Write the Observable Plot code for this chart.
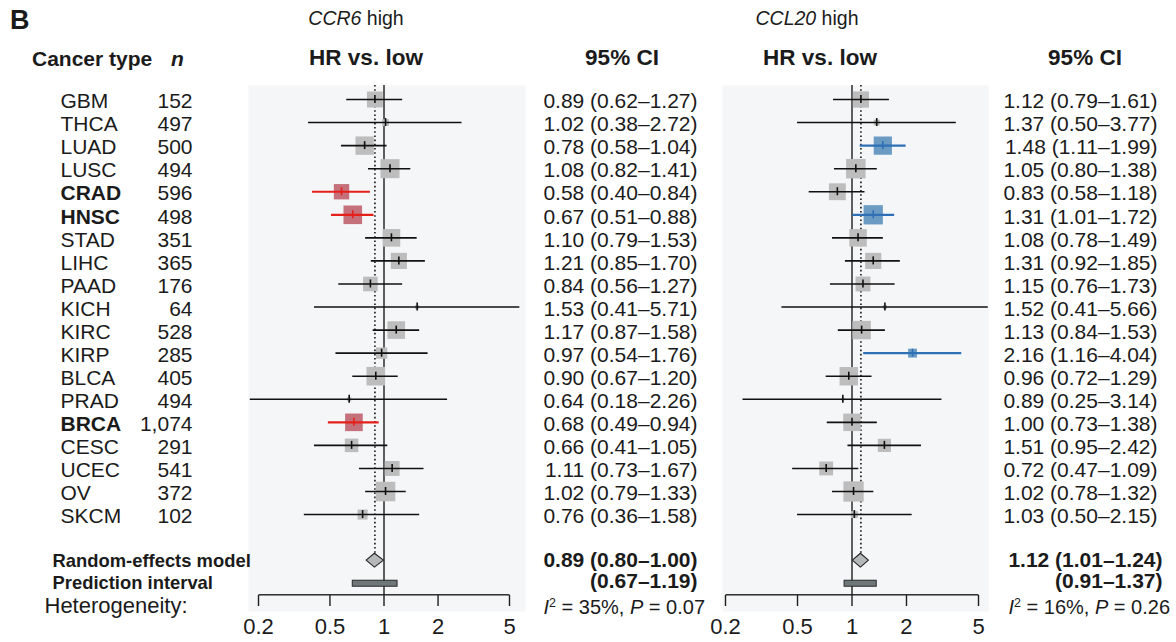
<!DOCTYPE html>
<html><head><meta charset="utf-8">
<script src="https://cdn.jsdelivr.net/npm/d3@7"></script>
<script src="https://cdn.jsdelivr.net/npm/@observablehq/plot@0.6"></script>
<style>
html,body{margin:0;padding:0;background:#fff}
#wrap{position:relative;width:1176px;height:642px;overflow:hidden;font-family:"Liberation Sans",Arial,Helvetica,sans-serif;color:#1b1b1b}
#wrap svg{position:absolute;left:0;top:0;background:transparent}
.lab{position:absolute;white-space:nowrap;line-height:1}
.c{transform:translate(-50%,-50%)}
.l{transform:translate(0,-50%)}
.r{transform:translate(-100%,-50%)}
sup{font-size:0.62em;vertical-align:0.55em;line-height:0}
</style></head>
<body><div id="wrap"></div>
<script>
// ---------- data ----------
const cancerTypes = ["GBM","THCA","LUAD","LUSC","CRAD","HNSC","STAD","LIHC","PAAD","KICH","KIRC","KIRP","BLCA","PRAD","BRCA","CESC","UCEC","OV","SKCM"];
const sampleSizes = [152,497,500,494,596,498,351,365,176,64,528,285,405,494,1074,291,541,372,102];

const ccr6HR     = [0.89,1.02,0.78,1.08,0.58,0.67,1.10,1.21,0.84,1.53,1.17,0.97,0.90,0.64,0.68,0.66,1.11,1.02,0.76];
const ccr6Lo     = [0.62,0.38,0.58,0.82,0.40,0.51,0.79,0.85,0.56,0.41,0.87,0.54,0.67,0.18,0.49,0.41,0.73,0.79,0.36];
const ccr6Hi     = [1.27,2.72,1.04,1.41,0.84,0.88,1.53,1.70,1.27,5.71,1.58,1.76,1.20,2.26,0.94,1.05,1.67,1.33,1.58];
const ccr6Weight = [5.8,1.1,7.7,8.3,5.4,7.9,7.1,6.0,4.9,0.4,7.1,2.9,7.9,0.4,7.1,4.2,5.1,8.7,2.3];
const ccr6Summary = [0.89,0.80,1.00];   // HR, lower, upper (random-effects)
const ccr6Pred    = [0.67,1.19];        // prediction interval
const ccr6Het     = ["35","0.07"];      // I^2 (%), P

const ccl20HR     = [1.12,1.37,1.48,1.05,0.83,1.31,1.08,1.31,1.15,1.52,1.13,2.16,0.96,0.89,1.00,1.51,0.72,1.02,1.03];
const ccl20Lo     = [0.79,0.50,1.11,0.80,0.58,1.01,0.78,0.92,0.76,0.41,0.84,1.16,0.72,0.25,0.73,0.95,0.47,0.78,0.50];
const ccl20Hi     = [1.61,3.77,1.99,1.38,1.18,1.72,1.49,1.85,1.73,5.66,1.53,4.04,1.29,3.14,1.38,2.42,1.09,1.32,2.15];
const ccl20Weight = [6.0,0.8,7.6,8.7,6.5,8.5,7.0,6.0,5.1,0.4,7.8,1.8,7.8,0.2,7.0,4.0,4.4,9.4,1.1];
const ccl20Summary = [1.12,1.01,1.24];
const ccl20Pred    = [0.91,1.37];
const ccl20Het     = ["16","0.26"];

const xTicks = [0.2,0.5,1,2,5];

// ---------- layout ----------
const W = 1176, H = 642, MT = 85, MB = 47;
const FONT = '"Liberation Sans", Arial, Helvetica, sans-serif';
const TXT = "#1b1b1b";
const wrap = document.getElementById("wrap");
const fmt = d3.format(".2f");
const fmtN = d3.format(",");
const boldTypes = new Set(cancerTypes.filter((t,i) => ccr6Hi[i] < 1));

function addLabel(html, x, y, cls, style) {
  const el = document.createElement("div");
  el.className = "lab " + cls;
  el.style.cssText = `left:${x}px;top:${y}px;${style || ""}`;
  el.innerHTML = html;
  wrap.appendChild(el);
}

function panel(cfg) {
  const {hr, lo, hi, weight, summary, pred, sigStroke, sigFill, left, right, bg, ciEnd, sumEnd, labels} = cfg;
  const rows = cancerTypes.map((t, i) => ({type: t, n: sampleSizes[i], row: i, hr: hr[i], lo: lo[i], hi: hi[i], w: weight[i], sig: hi[i] < 1 || lo[i] > 1}));
  const reRow = cancerTypes.length + 1, piRow = reRow + 1, hetRow = piRow + 1;
  const dh = 0.3;
  const diamond = [
    {y: reRow - dh, x1: summary[0], x2: summary[0]},
    {y: reRow, x1: summary[1], x2: summary[2]},
    {y: reRow + dh, x1: summary[0], x2: summary[0]}
  ];
  const ns = rows.filter(d => !d.sig), sg = rows.filter(d => d.sig);
  const marks = [
    Plot.frame({fill: "#f5f6f7", stroke: "none", insetLeft: -bg[0], insetRight: -bg[1], insetBottom: -16}),
    Plot.ruleX([1], {stroke: "#1e1e1e", strokeWidth: 1.4}),
    Plot.ruleX([summary[0]], {y1: () => 0, y2: () => reRow, insetTop: -14, insetBottom: 7, stroke: "#222", strokeWidth: 1.7, strokeDasharray: "1.6,2.6"}),
    Plot.dot(rows, {x: "hr", y: "row", r: "w", symbol: "square", fill: d => d.sig ? sigFill : "#bdbdbd", stroke: "none"}),
    Plot.ruleY(ns, {y: "row", x1: "lo", x2: "hi", stroke: "#111", strokeWidth: 1.6}),
    Plot.ruleY(sg, {y: "row", x1: "lo", x2: "hi", stroke: sigStroke, strokeWidth: 2.2}),
    Plot.ruleX(rows, {x: "hr", y1: "row", y2: "row", insetTop: -4, insetBottom: -4, stroke: d => d.sig ? sigStroke : "#111", strokeWidth: 1.6}),
    Plot.areaX(diamond, {y: "y", x1: "x1", x2: "x2", fill: "#b5b8b9", stroke: "#222", strokeWidth: 1.1}),
    Plot.rect([pred], {x1: d => d[0], x2: d => d[1], y1: () => piRow, y2: () => piRow, insetTop: -3, insetBottom: -3, fill: "#6f777a", stroke: "#2a2a2a", strokeWidth: 1}),
    // axis line along the frame bottom
    Plot.frame({fill: "#1e1e1e", stroke: "none", insetTop: (H - MB - MT) - 1.4}),
    Plot.axisX({ticks: xTicks, tickSize: 11, tickPadding: 12, tickFormat: d => String(d), fontSize: 22, stroke: "#1e1e1e", strokeWidth: 1.4, fill: TXT, label: null}),
    Plot.text(rows, {y: "row", text: d => `${fmt(d.hr)} (${fmt(d.lo)}–${fmt(d.hi)})`, frameAnchor: "right", dx: ciEnd - right, dy: 2, textAnchor: "end", fontSize: 21, fill: TXT}),
    Plot.text([summary], {y: () => reRow, text: d => `${fmt(d[0])} (${fmt(d[1])}–${fmt(d[2])})`, frameAnchor: "right", dx: sumEnd - right, dy: 0, textAnchor: "end", fontSize: 21, fontWeight: "bold", fill: TXT}),
    Plot.text([pred], {y: () => piRow, text: d => `(${fmt(d[0])}–${fmt(d[1])})`, frameAnchor: "right", dx: sumEnd - right, dy: -2, textAnchor: "end", fontSize: 21, fontWeight: "bold", fill: TXT})
  ];
  if (labels) {
    marks.push(
      Plot.text(rows.filter(d => !boldTypes.has(d.type)), {y: "row", text: "type", frameAnchor: "left", dx: 60 - left, dy: 2, textAnchor: "start", fontSize: 21, fill: TXT}),
      Plot.text(rows.filter(d => boldTypes.has(d.type)), {y: "row", text: "type", frameAnchor: "left", dx: 60 - left, dy: 2, textAnchor: "start", fontSize: 21, fontWeight: "bold", fill: TXT}),
      Plot.text(rows, {y: "row", text: d => fmtN(d.n), frameAnchor: "left", dx: 192 - left, dy: 2, textAnchor: "end", fontSize: 21, fill: TXT}),
      Plot.text(["Random-effects model"], {y: () => reRow, text: d => d, frameAnchor: "left", dx: 52 - left, dy: 0, textAnchor: "start", fontSize: 18.4, fontWeight: "bold", fill: TXT}),
      Plot.text(["Prediction interval"], {y: () => piRow, text: d => d, frameAnchor: "left", dx: 52 - left, dy: -1, textAnchor: "start", fontSize: 18.4, fontWeight: "bold", fill: TXT}),
      Plot.text(["Heterogeneity:"], {y: () => hetRow, text: d => d, frameAnchor: "left", dx: 44 - left, dy: -1, textAnchor: "start", fontSize: 22, fill: TXT})
    );
  }
  return Plot.plot({
    width: W, height: H,
    marginLeft: left, marginRight: W - right, marginTop: MT, marginBottom: MB,
    style: {fontFamily: FONT, fontSize: "20px", background: "transparent", color: "#1e1e1e", overflow: "visible"},
    x: {type: "log", domain: [0.2, 5], label: null},
    y: {domain: [0, hetRow], range: [99, 606.3], axis: null},
    r: {type: "sqrt", domain: [0, 10], range: [0, 11.8]},
    marks
  });
}

wrap.appendChild(panel({hr: ccr6HR, lo: ccr6Lo, hi: ccr6Hi, weight: ccr6Weight, summary: ccr6Summary, pred: ccr6Pred,
  sigStroke: "#e5201b", sigFill: "#c4717b", left: 258, right: 509, bg: [10, 16], ciEnd: 697, sumEnd: 697, labels: true}));
wrap.appendChild(panel({hr: ccl20HR, lo: ccl20Lo, hi: ccl20Hi, weight: ccl20Weight, summary: ccl20Summary, pred: ccl20Pred,
  sigStroke: "#2e6fb6", sigFill: "#6b9bc3", left: 725, right: 978, bg: [3, 10], ciEnd: 1157, sumEnd: 1162, labels: false}));

// headers
addLabel("B", 10, 20, "l", "font-size:27px;font-weight:bold");
addLabel("<i>CCR6</i> high", 356, 19, "c", "font-size:19.5px");
addLabel("<i>CCL20</i> high", 807, 19, "c", "font-size:19.5px");
addLabel("Cancer type", 32, 58, "l", "font-size:21px;font-weight:bold");
addLabel("<i>n</i>", 171, 58, "l", "font-size:21px;font-weight:bold");
addLabel("HR vs. low", 366, 58, "c", "font-size:22.5px;font-weight:bold");
addLabel("95% CI", 622, 58, "c", "font-size:22.5px;font-weight:bold");
addLabel("HR vs. low", 820, 58, "c", "font-size:22.5px;font-weight:bold");
addLabel("95% CI", 1085, 58, "c", "font-size:22.5px;font-weight:bold");
addLabel(`<i>I</i><sup>2</sup> = ${ccr6Het[0]}%, <i>P</i> = ${ccr6Het[1]}`, 705, 607, "r", "font-size:20px");
addLabel(`<i>I</i><sup>2</sup> = ${ccl20Het[0]}%, <i>P</i> = ${ccl20Het[1]}`, 1170, 607, "r", "font-size:20px");
</script>
</body></html>
